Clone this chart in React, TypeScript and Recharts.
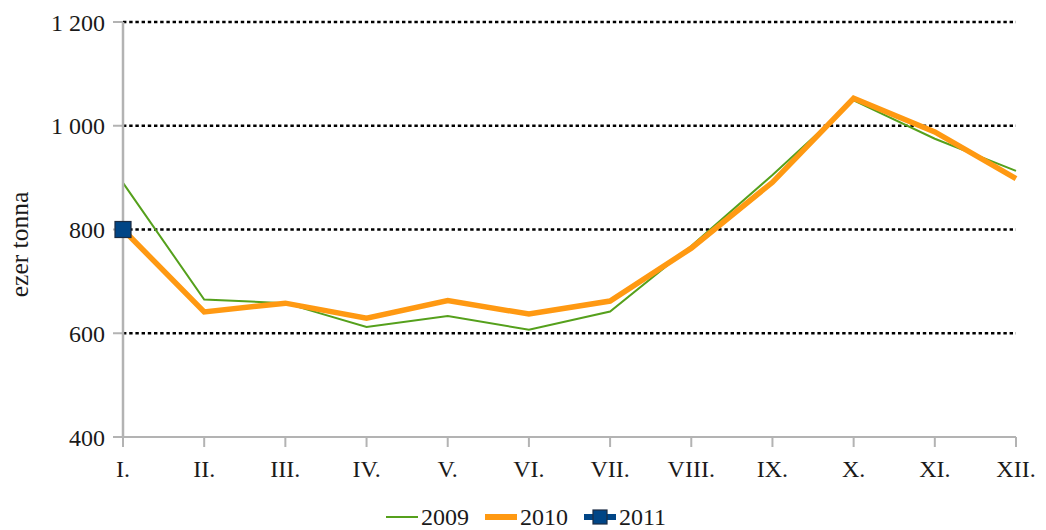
import { CartesianGrid, Legend, Line, LineChart, XAxis, YAxis } from "recharts";

const months = ["I.", "II.", "III.", "IV.", "V.", "VI.", "VII.", "VIII.", "IX.", "X.", "XI.", "XII."];
const y2009 = [890, 665, 658, 612, 633, 607, 642, 768, 905, 1049, 975, 913];
const y2010 = [800, 641, 658, 629, 663, 637, 662, 764, 891, 1053, 988, 898];
const y2011: Array<number | null> = [800, null, null, null, null, null, null, null, null, null, null, null];
const yTicks = [400, 600, 800, 1000, 1200];
const gridValues = [600, 800, 1000, 1200];

const FONT = "Liberation Serif";
const GREEN = "#55a01c";
const ORANGE = "#ff9912";
const NAVY = "#004586";
const AXIS = "#b3b3b3";
const TEXT = "#1a1a1a";

const data = months.map((m, i) => ({ month: m, y2009: y2009[i], y2010: y2010[i], y2011: y2011[i] }));

// thousands with a space, e.g. "1 200"
const fmtTick = (v: number) => v.toLocaleString("en-US").replace(/,/g, " ");

const tickStyle = { fontSize: 24, fill: TEXT, style: { fontFamily: FONT } };

function AxisTitle({ viewBox }: any) {
  const cx = viewBox.x + 19;
  const cy = viewBox.y + viewBox.height / 2 + 15;
  return (
    <text
      x={cx}
      y={cy}
      transform={`rotate(-90, ${cx}, ${cy})`}
      textAnchor="middle"
      dominantBaseline="central"
      style={{ fontFamily: FONT, fontSize: 25.5 }}
      fill={TEXT}
    >
      ezer tonna
    </text>
  );
}

function SquareDot(props: any) {
  const { cx, cy, value, index } = props;
  if (value == null || cx == null) return <g key={`d-${index}`} />;
  return (
    <rect key={`d-${index}`} x={cx - 8} y={cy - 8} width={16} height={16} fill={NAVY} stroke="#1b2c44" strokeWidth={1.2} />
  );
}

function LegendRow() {
  const item = (color: string, w: number, label: string, square = false) => (
    <span key={label} style={{ display: "inline-flex", alignItems: "center", marginRight: 16 }}>
      <svg width={32} height={20} style={{ marginRight: 3 }}>
        <line x1={0} y1={10} x2={32} y2={10} stroke={color} strokeWidth={w} />
        {square && <rect x={9} y={3} width={14} height={14} fill={NAVY} stroke="#1b2c44" strokeWidth={1.2} />}
      </svg>
      <span>{label}</span>
    </span>
  );
  return (
    <div
      style={{
        height: 26,
        lineHeight: "26px",
        display: "flex",
        justifyContent: "center",
        paddingLeft: 52,
        fontFamily: FONT,
        fontSize: 24,
        color: TEXT,
      }}
    >
      {item(GREEN, 2, "2009")}
      {item(ORANGE, 6, "2010")}
      {item(NAVY, 6, "2011", true)}
    </div>
  );
}

export default function App() {
  return (
    <div style={{ position: "absolute", left: 0, top: 0, background: "#fff", fontFamily: FONT }}>
      <LineChart width={1046} height={530} data={data} margin={{ top: 22, right: 30, bottom: 0, left: 0 }}>
        <CartesianGrid
          horizontal
          vertical={false}
          horizontalValues={gridValues}
          stroke="#000"
          strokeWidth={2.5}
          strokeDasharray="3.4 2.8"
        />
        <XAxis
          dataKey="month"
          height={67}
          padding={{ left: 0, right: 0 }}
          axisLine={{ stroke: AXIS, strokeWidth: 2 }}
          tickLine={{ stroke: AXIS, strokeWidth: 2 }}
          tickSize={10}
          tickMargin={13}
          tick={tickStyle}
          interval={0}
        />
        <YAxis
          width={123}
          domain={[400, 1200]}
          ticks={yTicks}
          tickFormatter={fmtTick}
          axisLine={{ stroke: AXIS, strokeWidth: 2.5 }}
          tickLine={{ stroke: AXIS, strokeWidth: 2 }}
          tickSize={10}
          tickMargin={8}
          tick={tickStyle}
          label={{ value: "ezer tonna", content: AxisTitle }}
        />
        <Legend verticalAlign="bottom" content={LegendRow} wrapperStyle={{ height: 26 }} />
        <Line dataKey="y2009" name="2009" stroke={GREEN} strokeWidth={2} dot={false} activeDot={false} isAnimationActive={false} />
        <Line dataKey="y2010" name="2010" stroke={ORANGE} strokeWidth={5.5} dot={false} activeDot={false} isAnimationActive={false} />
        <Line dataKey="y2011" name="2011" stroke={NAVY} strokeWidth={5} dot={SquareDot} activeDot={false} isAnimationActive={false} />
      </LineChart>
    </div>
  );
}
